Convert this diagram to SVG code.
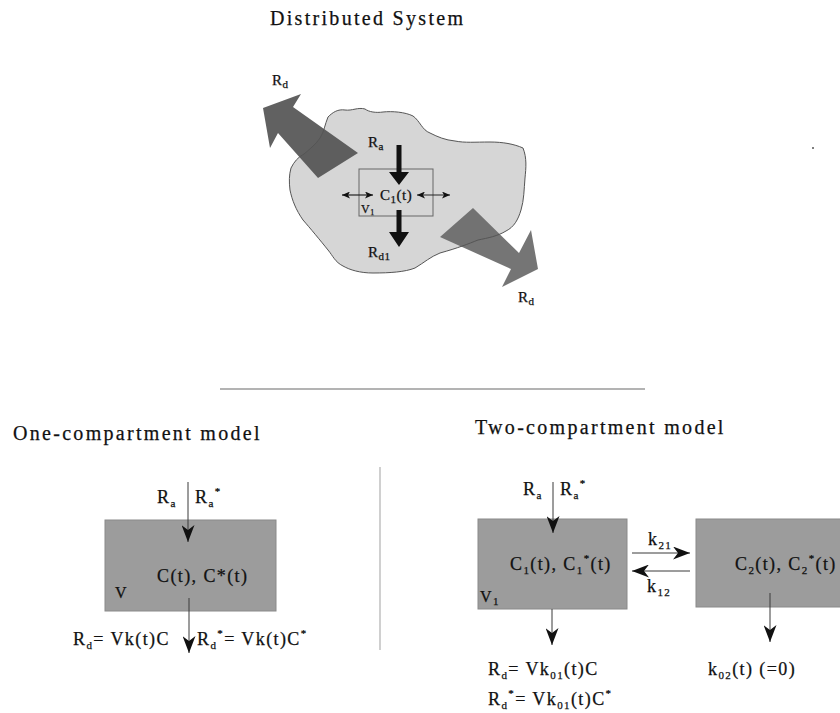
<svg xmlns="http://www.w3.org/2000/svg" width="840" height="713" viewBox="0 0 840 713">
<defs>
<style>
text{font-family:"Liberation Serif","Times New Roman",serif;fill:#111;stroke:#111;stroke-width:0.25}
.title{font-size:20px;letter-spacing:2.3px}
.lab{font-size:18px;letter-spacing:1.4px}
.dlab{font-size:15px;letter-spacing:0.5px}
.sub{font-size:11px}
.box{fill:#9c9c9c;stroke:#8a8a8a;stroke-width:1}
.ln{stroke:#3a3a3a;stroke-width:1;fill:none}
.thin{stroke:#222;stroke-width:1.2;fill:none}
</style>
<marker id="ah" markerUnits="userSpaceOnUse" markerWidth="17" markerHeight="13" refX="17" refY="6.5" orient="auto">
<path d="M0,0 L17,6.5 L0,13 L5,6.5 z" fill="#111"/>
</marker>
<marker id="sm" markerUnits="userSpaceOnUse" markerWidth="8" markerHeight="7" refX="8" refY="3.5" orient="auto-start-reverse">
<path d="M0,0 L8,3.5 L0,7 L2,3.5 z" fill="#111"/>
</marker>
</defs>
<rect width="840" height="713" fill="#fff"/>

<g id="distributed-title"><text class="title" x="270" y="25">Distributed System</text></g>

<g id="distributed-system">
<path id="blob-fill" d="M328,117 C333,112 338,109 345,110 C352,111 358,107 365,109 C369,112 376,113 383,112 C392,111 405,112 413,116 C420,121 422,130 430,133 C438,137 445,140 455,141 C465,143 475,142 490,142 C503,142 514,144 523,148 C527,158 526,168 525,178 C524,190 524,200 521,210 C518,220 514,227 506,231 C498,236 488,238 478,240 C468,244 458,248 440,253 C430,257 425,262 415,268 C405,272 390,273 373,273 C360,273 350,270 343,266 C335,262 333,256 328,250 C320,240 310,228 303,220 C296,210 292,200 290,190 C289,182 289,175 291,168 C294,162 298,157 304,154 C311,148 316,144 320,138 C324,132 325,124 328,117 Z" fill="#d6d6d6"/>
<polygon points="263,108 301,94 293,107 358,153 318,178 278,133 270,148" fill="#555" fill-opacity="0.93"/>
<polygon points="538,269 502,287 511,269 440,237 473,208 519,253 531,230" fill="#6b6b6b" fill-opacity="0.93"/>
<path d="M328,117 C333,112 338,109 345,110 C352,111 358,107 365,109 C369,112 376,113 383,112 C392,111 405,112 413,116 C420,121 422,130 430,133 C438,137 445,140 455,141 C465,143 475,142 490,142 C503,142 514,144 523,148 C527,158 526,168 525,178 C524,190 524,200 521,210 C518,220 514,227 506,231 C498,236 488,238 478,240 C468,244 458,248 440,253 C430,257 425,262 415,268 C405,272 390,273 373,273 C360,273 350,270 343,266 C335,262 333,256 328,250 C320,240 310,228 303,220 C296,210 292,200 290,190 C289,182 289,175 291,168 C294,162 298,157 304,154 C311,148 316,144 320,138 C324,132 325,124 328,117 Z" fill="none" stroke="#555" stroke-width="1"/>
<rect x="359" y="169" width="74" height="47" fill="none" stroke="#666" stroke-width="1"/>
<polygon points="396.5,145 401.5,145 401.5,172 409,172 399,185 389,172 396.5,172" fill="#111"/>
<polygon points="396.5,210 401.5,210 401.5,232 409,232 399,247 389,232 396.5,232" fill="#111"/>
<line class="thin" x1="342" y1="195" x2="373" y2="195" marker-start="url(#sm)" marker-end="url(#sm)"/>
<line class="thin" x1="417" y1="195" x2="450" y2="195" marker-start="url(#sm)" marker-end="url(#sm)"/>
<text class="dlab" x="272" y="85">R<tspan class="sub" dy="3">d</tspan></text>
<text class="dlab" x="368" y="147">R<tspan class="sub" dy="3">a</tspan></text>
<text class="dlab" x="380" y="200">C<tspan class="sub" dy="3">1</tspan><tspan dy="-3">(t)</tspan></text>
<text class="dlab" x="361" y="213" style="font-size:12px">V<tspan style="font-size:8px" dy="2">1</tspan></text>
<text class="dlab" x="368" y="257">R<tspan class="sub" dy="3">d1</tspan></text>
<text class="dlab" x="518" y="302">R<tspan class="sub" dy="3">d</tspan></text>
<circle cx="813" cy="148" r="1" fill="#555"/>
</g>

<g id="dividers">
<line x1="220" y1="389" x2="645" y2="389" stroke="#9a9a9a" stroke-width="1.5"/>
<line x1="380" y1="467" x2="380" y2="650" stroke="#b0b0b0" stroke-width="1.2"/>
</g>

<g id="one-compartment-title"><text class="title" x="13" y="440">One-compartment model</text></g>
<g id="two-compartment-title"><text class="title" x="475" y="434">Two-compartment model</text></g>

<g id="one-compartment">
<rect class="box" x="105" y="520" width="171" height="91"/>
<text class="lab" x="157" y="582">C(t), C*(t)</text>
<text class="lab" x="115" y="598" style="font-size:16px">V</text>
</g>

<g id="compartment-1">
<rect class="box" x="478" y="519" width="149" height="90"/>
<text class="lab" x="510" y="570">C<tspan class="sub" dy="4">1</tspan><tspan dy="-4">(t), C</tspan><tspan class="sub" dy="4">1</tspan><tspan class="sub" dy="-12">*</tspan><tspan dy="8">(t)</tspan></text>
<text class="lab" x="480" y="602" style="font-size:16px">V<tspan class="sub" dy="3">1</tspan></text>
</g>

<g id="compartment-2">
<rect class="box" x="696" y="519" width="150" height="88"/>
<text class="lab" x="735" y="570">C<tspan class="sub" dy="4">2</tspan><tspan dy="-4">(t), C</tspan><tspan class="sub" dy="4">2</tspan><tspan class="sub" dy="-12">*</tspan><tspan dy="8">(t)</tspan></text>
</g>

<g id="connectors">
<line class="ln" x1="188" y1="482" x2="188" y2="542" marker-end="url(#ah)"/>
<line class="ln" x1="189" y1="598" x2="189" y2="653" marker-end="url(#ah)"/>
<line class="ln" x1="553" y1="482" x2="553" y2="533" marker-end="url(#ah)"/>
<line class="ln" x1="552" y1="609" x2="552" y2="645" marker-end="url(#ah)"/>
<line class="ln" x1="632" y1="553" x2="690" y2="553" marker-end="url(#ah)"/>
<line class="ln" x1="690" y1="571" x2="632" y2="571" marker-end="url(#ah)"/>
<line class="ln" x1="770" y1="593" x2="770" y2="642" marker-end="url(#ah)"/>
</g>

<g id="labels">
<text class="lab" x="157" y="503">R<tspan class="sub" dy="4">a</tspan></text>
<text class="lab" x="195" y="503">R<tspan class="sub" dy="4">a</tspan><tspan class="sub" dy="-12">*</tspan></text>
<text class="lab" x="73" y="645">R<tspan class="sub" dy="4">d</tspan><tspan dy="-4">= Vk(t)C</tspan></text>
<text class="lab" x="197" y="645">R<tspan class="sub" dy="4">d</tspan><tspan class="sub" dy="-12">*</tspan><tspan dy="8">= Vk(t)C</tspan><tspan class="sub" dy="-8">*</tspan></text>
<text class="lab" x="523" y="495">R<tspan class="sub" dy="4">a</tspan></text>
<text class="lab" x="560" y="495">R<tspan class="sub" dy="4">a</tspan><tspan class="sub" dy="-12">*</tspan></text>
<text class="lab" x="648" y="545">k<tspan class="sub" dy="4">21</tspan></text>
<text class="lab" x="647" y="592">k<tspan class="sub" dy="4">12</tspan></text>
<text class="lab" x="488" y="675">R<tspan class="sub" dy="4">d</tspan><tspan dy="-4">= Vk</tspan><tspan class="sub" dy="4">01</tspan><tspan dy="-4">(t)C</tspan></text>
<text class="lab" x="488" y="705">R<tspan class="sub" dy="4">d</tspan><tspan class="sub" dy="-12">*</tspan><tspan dy="8">= Vk</tspan><tspan class="sub" dy="4">01</tspan><tspan dy="-4">(t)C</tspan><tspan class="sub" dy="-8">*</tspan></text>
<text class="lab" x="708" y="675">k<tspan class="sub" dy="4">02</tspan><tspan dy="-4">(t) (=0)</tspan></text>
</g>
</svg>
